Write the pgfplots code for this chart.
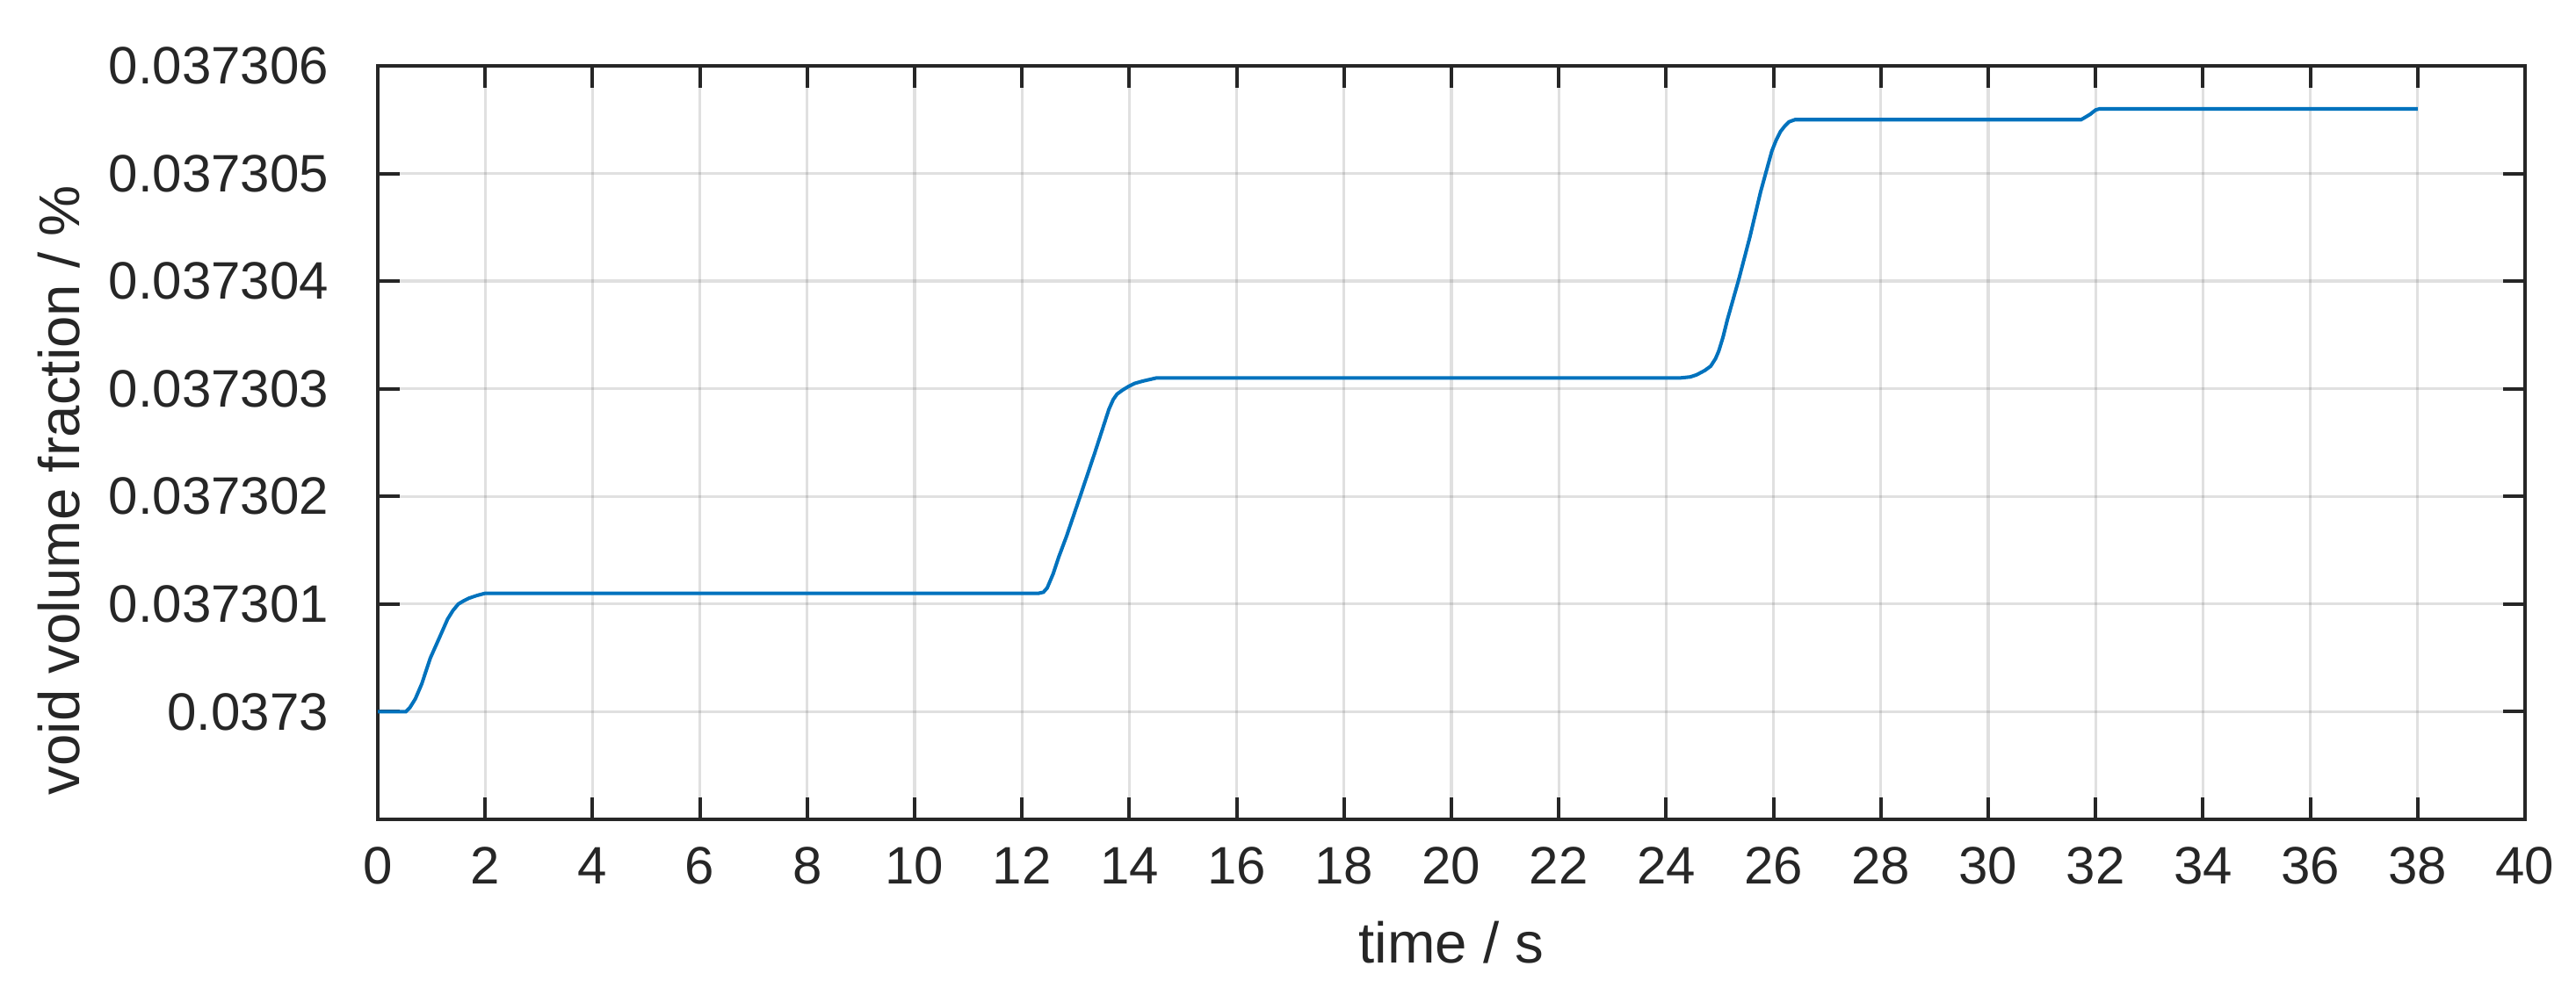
\documentclass[border=0pt]{standalone}
\usepackage{fontspec}
\setmainfont{Liberation Sans}
\usepackage{pgfplots}
\pgfplotsset{compat=1.18}
\definecolor{mblue}{HTML}{0072BD}
\definecolor{axgray}{HTML}{262626}
\begin{document}
\begin{tikzpicture}
% y values are stored as (void volume fraction - 0.0373) in units of 1e-6
\begin{axis}[
  name=ax,
  scale only axis,
  width=407.33pt, height=143pt,
  xmin=0, xmax=40, ymin=-1, ymax=6,
  xtick={0,2,...,40},
  ytick={0,1,2,3,4,5,6},
  yticklabels={0.0373,0.037301,0.037302,0.037303,0.037304,0.037305,0.037306},
  tick align=inside,
  major tick length=4.2pt,
  grid=major,
  major grid style={draw=axgray, draw opacity=0.14, line width=0.55pt},
  axis line style={axgray, line width=0.67pt},
  every tick/.style={axgray, line width=0.67pt},
  /pgf/number format/assume math mode=true,
  tick label style={font=\fontsize{10}{12}\selectfont, text=axgray},
  xticklabel style={yshift=-1.8pt},
  yticklabel style={xshift=-5.8pt},
  label style={font=\fontsize{10.9}{13}\selectfont, text=axgray},
  xlabel={time / s},
  ylabel={void volume fraction / \%},
  xlabel style={at={(rel axis cs:0.5,-0.1911)}, anchor=base},
  ylabel style={at={(rel axis cs:-0.1391,0.437)}, anchor=base},
]
\addplot[mblue, line width=0.67pt] table {
t v
0 0
0.52 0
0.6 0.04
0.7 0.12
0.82 0.26
0.98 0.5
1.15 0.69
1.3 0.86
1.4 0.94
1.5 1.0
1.6 1.03
1.7 1.055
1.85 1.08
2.0 1.1
12.31 1.1
12.4 1.11
12.47 1.15
12.58 1.28
12.68 1.43
12.83 1.63
13.09 2.01
13.36 2.41
13.62 2.81
13.7 2.9
13.77 2.95
13.88 2.99
13.98 3.02
14.1 3.05
14.24 3.07
14.5 3.1
24.25 3.1
24.45 3.11
24.57 3.13
24.72 3.17
24.83 3.21
24.92 3.28
24.98 3.35
25.06 3.48
25.14 3.64
25.35 4.01
25.56 4.41
25.76 4.83
25.97 5.21
26.05 5.31
26.13 5.39
26.21 5.44
26.29 5.48
26.4 5.5
26.55 5.5
31.73 5.5
31.8 5.52
31.9 5.55
32.0 5.59
32.07 5.6
38 5.6
};
\end{axis}
\pgfresetboundingbox
\path[use as bounding box] ([xshift=-71.67pt,yshift=-33.33pt]ax.south west) rectangle ([xshift=9.67pt,yshift=12.5pt]ax.north east);
\end{tikzpicture}
\end{document}
